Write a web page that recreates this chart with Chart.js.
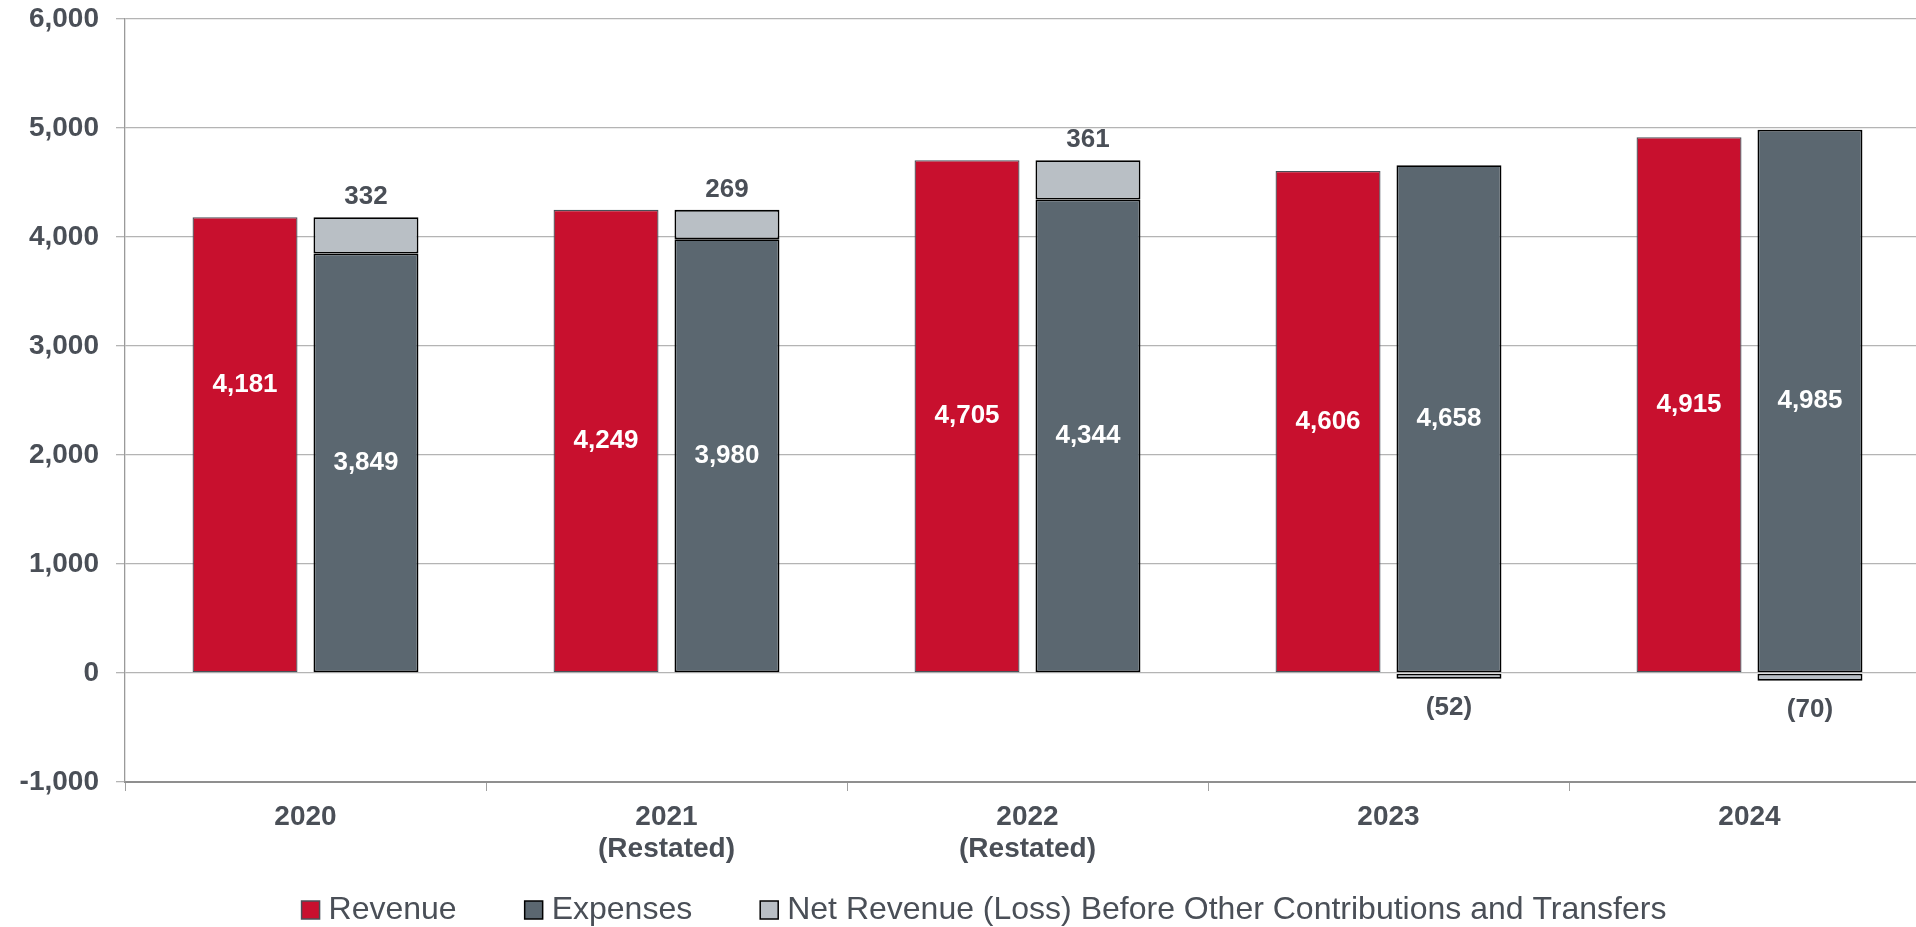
<!DOCTYPE html>
<html>
<head>
<meta charset="utf-8">
<script src="https://cdn.jsdelivr.net/npm/chart.js@4"></script>
<style>
	html, body { margin: 0; padding: 0; background: #fff; overflow: hidden; }
	#wrap { width: 1930px; height: 927px; }
</style>
</head>
<body>
<div id="wrap"><canvas id="finChart" width="1930" height="927"></canvas></div>
<script>
// Data (millions)
const years = [['2020'], ['2021', '(Restated)'], ['2022', '(Restated)'], ['2023'], ['2024']];
const revenue = [4181, 4249, 4705, 4606, 4915];
const expenses = [3849, 3980, 4344, 4658, 4985];
const netRevenue = [332, 269, 361, -52, -70];
const yTicks = { min: -1000, max: 6000, step: 1000 };

const textGrey = '#4a4f57';
const fontFamily = '"Liberation Sans", Arial, sans-serif';

function fmtNum(v) {
	return v.toLocaleString('en-US');
}

// revenue label for 2020 sits higher than the bar middle in the original
const revenueLabelShift = { 0: -60 };

const valueLabels = {
	id: 'valueLabels',
	afterDatasetsDraw(chart) {
		const ctx = chart.ctx;
		ctx.save();
		ctx.font = 'bold 26px ' + fontFamily;
		ctx.textAlign = 'center';
		ctx.textBaseline = 'middle';
		chart.data.datasets.forEach((ds, i) => {
			chart.getDatasetMeta(i).data.forEach((bar, j) => {
				const v = ds.data[j];
				let y;
				const txt = v < 0 ? '(' + fmtNum(-v) + ')' : fmtNum(v);
				if (i === 2) {
					ctx.fillStyle = textGrey;
					y = v < 0 ? bar.y + 29 : bar.y - 20;
				} else {
					ctx.fillStyle = '#ffffff';
					y = (bar.y + bar.base) / 2;
					if (i === 0 && revenueLabelShift[j]) y += revenueLabelShift[j];
				}
				ctx.fillText(txt, bar.x, y);
			});
		});
		ctx.restore();
	},
};

// legend row drawn by hand so the spacing matches the original
const legendRow = {
	id: 'legendRow',
	afterDraw(chart, args, opts) {
		const ctx = chart.ctx;
		ctx.save();
		ctx.font = opts.fontSize + 'px ' + fontFamily;
		ctx.textBaseline = 'middle';
		ctx.textAlign = 'left';
		const items = chart.data.datasets.map((ds) => ({
			ds: ds,
			w: opts.box + opts.gap + ctx.measureText(ds.label).width,
		}));
		const total = items.reduce((s, it) => s + it.w, 0) + opts.spacing * (items.length - 1);
		let x = opts.centerX - total / 2;
		items.forEach((it) => {
			const y0 = opts.y - opts.box / 2;
			ctx.fillStyle = it.ds.backgroundColor;
			ctx.fillRect(x, y0, opts.box, opts.box);
			ctx.lineWidth = 1.5;
			ctx.strokeStyle = it.ds.borderColor;
			ctx.strokeRect(x, y0, opts.box, opts.box);
			ctx.fillStyle = textGrey;
			ctx.fillText(it.ds.label, x + opts.box + opts.gap, opts.y);
			x += it.w + opts.spacing;
		});
		ctx.restore();
	},
};

const ctx = document.getElementById('finChart').getContext('2d');
const finChart = new Chart(ctx, {
	type: 'bar',
	data: {
		labels: years,
		datasets: [
			{
				label: 'Revenue',
				data: revenue,
				backgroundColor: '#c8102e',
				borderColor: '#4a4f57',
				borderWidth: 1.3,
				borderSkipped: false,
				stack: 'rev',
			},
			{
				label: 'Expenses',
				data: expenses,
				backgroundColor: '#5b6770',
				borderColor: '#000000',
				borderWidth: 1.8,
				borderSkipped: false,
				stack: 'exp',
			},
			{
				label: 'Net Revenue (Loss) Before Other Contributions and Transfers',
				data: netRevenue,
				backgroundColor: '#b9bfc5',
				borderColor: '#000000',
				borderWidth: 1.8,
				borderSkipped: false,
				stack: 'exp',
			},
		],
	},
	options: {
		responsive: false,
		animation: false,
		categoryPercentage: 0.67,
		barPercentage: 0.868,
		layout: { padding: { top: 19, left: 0, right: 0, bottom: 55 } },
		plugins: {
			tooltip: { enabled: false },
			legend: { display: false },
			legendRow: { centerX: 984, y: 910, box: 18, gap: 9, spacing: 68, fontSize: 32 },
		},
		scales: {
			x: {
				stacked: true,
				afterFit: (s) => { s.height = 90; },
				grid: {
					offset: true,
					drawOnChartArea: false,
					tickLength: 9,
					color: '#a0a0a0',
				},
				border: { color: '#8f8f8f', width: 2 },
				ticks: {
					color: textGrey,
					padding: 10,
					font: { family: fontFamily, size: 28, weight: 'bold', lineHeight: 1.15 },
				},
			},
			y: {
				stacked: true,
				min: yTicks.min,
				max: yTicks.max,
				afterFit: (s) => {
					s.width = 125;
					s.paddingTop = 0;
					s.paddingBottom = 0;
				},
				grid: { color: '#b4b4b4', lineWidth: 1.3, tickLength: 9 },
				border: { color: '#9a9a9a', width: 1.3 },
				ticks: {
					stepSize: yTicks.step,
					color: textGrey,
					padding: 17,
					font: { family: fontFamily, size: 28, weight: 'bold' },
					callback: (v) => fmtNum(v),
				},
			},
		},
	},
	plugins: [valueLabels, legendRow],
});
</script>
</body>
</html>
